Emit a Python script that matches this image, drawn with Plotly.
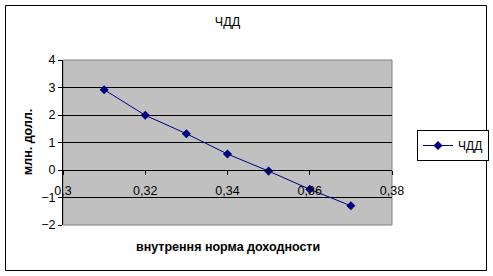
import plotly.graph_objects as go

irr = [0.31, 0.32, 0.33, 0.34, 0.35, 0.36, 0.37]
npv = [2.92, 1.99, 1.32, 0.58, -0.04, -0.70, -1.30]
series_name = "ЧДД"
title_text = "ЧДД"
x_title = "внутрення норма доходности"
y_title = "млн. долл."

W, H = 493, 276
L, R, T, B = 63, 101, 60, 51
pw, ph = W - L - R, H - T - B

def px_x(p):
    return (p - L) / pw

def px_y(p):
    return (H - B - p) / ph

font = "Liberation Sans, Arial, sans-serif"

fig = go.Figure()
fig.add_trace(go.Scatter(
    x=irr, y=npv, mode="lines+markers", name=series_name,
    line=dict(color="#000080", width=1),
    marker=dict(symbol="diamond", size=7, color="#000080"),
))

fig.update_layout(
    width=W, height=H,
    margin=dict(l=L, r=R, t=T, b=B, autoexpand=False),
    paper_bgcolor="white",
    plot_bgcolor="#C0C0C0",
    separators=", ",
    font=dict(family=font, size=12, color="black"),
    title=dict(text=title_text, x=0.5, xanchor="center", xref="paper",
               y=1 - 22 / H, yanchor="middle",
               font=dict(family=font, size=12.5, color="black")),
    showlegend=True,
    legend=dict(x=px_x(417), y=px_y(130), xanchor="left", yanchor="top",
                bordercolor="black", borderwidth=1, bgcolor="white",
                font=dict(family=font, size=12, color="black"),
                itemwidth=30, tracegroupgap=0),
    xaxis=dict(range=[0.3, 0.38], dtick=0.02, tick0=0.3,
               anchor="free", position=1/3,
               showgrid=False, zeroline=False,
               showline=True, linecolor="black", linewidth=1,
               ticks="outside", ticklen=4, tickcolor="black",
               ticklabelstandoff=5,
               tickfont=dict(family=font, size=12.5, color="black")),
    yaxis=dict(range=[-2, 4], dtick=1, domain=[0, 1],
               showgrid=True, gridcolor="black", gridwidth=1,
               zeroline=True, zerolinecolor="black", zerolinewidth=1,
               showline=True, linecolor="black", linewidth=1,
               ticks="outside", ticklen=4, tickcolor="black",
               tickfont=dict(family=font, size=12.5, color="black")),
    annotations=[
        dict(text="<b>" + x_title + "</b>", xref="paper", yref="paper",
             x=px_x(228), y=px_y(247), xanchor="center", yanchor="middle",
             showarrow=False, font=dict(family=font, size=12.5, color="black")),
        dict(text="<b>" + y_title + "</b>", xref="paper", yref="paper",
             x=px_x(28), y=px_y(142), xanchor="center", yanchor="middle",
             textangle=-90, showarrow=False,
             font=dict(family=font, size=12.5, color="black")),
    ],
)

# plot area grey frame
fig.add_shape(type="rect", xref="paper", yref="paper", x0=0, x1=1, y0=0, y1=1,
              line=dict(color="#808080", width=1), layer="below")
# outer chart border
fig.add_shape(type="rect", xref="paper", yref="paper",
              x0=px_x(5.5), x1=px_x(486.5), y0=px_y(270.5), y1=px_y(5.5),
              line=dict(color="black", width=1))

fig.write_html("out.html")
